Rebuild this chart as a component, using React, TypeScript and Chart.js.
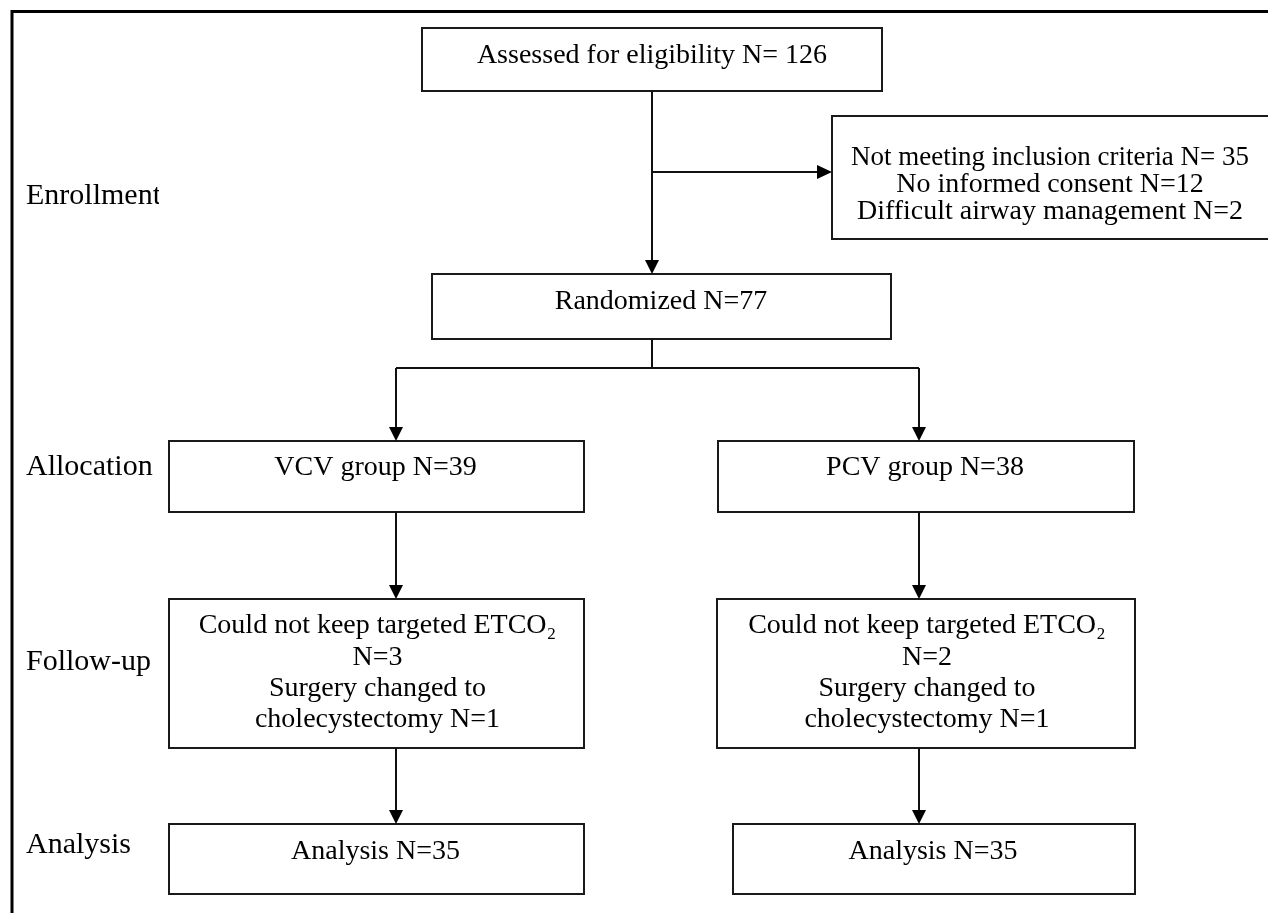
import React, { useEffect, useRef } from "react";
import { Chart, registerables } from "chart.js";

Chart.register(...registerables);

// ---- Data ----
const stageLabels = ["Enrollment", "Allocation", "Follow-up", "Analysis"];
const assessedN = 126;
const exclusionReasons = ["Not meeting inclusion criteria", "No informed consent", "Difficult airway management"];
const exclusionN = [35, 12, 2];
const randomizedN = 77;
const groupNames = ["VCV", "PCV"];
const allocatedN = [39, 38];
const etco2FailN = [3, 2];
const surgeryChangedN = [1, 1];
const analysedN = [35, 35];

// ---- Layout (in chart units, 0..1268 x 0..913) ----
type Box = { x0: number; x1: number; y0: number; y1: number };
const assessedBox: Box = { x0: 422, x1: 882, y0: 28, y1: 91 };
const exclusionBox: Box = { x0: 832, x1: 1272, y0: 116, y1: 239 };
const randomizedBox: Box = { x0: 432, x1: 891, y0: 274, y1: 339 };
const allocBoxes: Box[] = [
  { x0: 169, x1: 584, y0: 441, y1: 512 },
  { x0: 718, x1: 1134, y0: 441, y1: 512 },
];
const followBoxes: Box[] = [
  { x0: 169, x1: 584, y0: 599, y1: 748 },
  { x0: 717, x1: 1135, y0: 599, y1: 748 },
];
const analysisBoxes: Box[] = [
  { x0: 169, x1: 584, y0: 824, y1: 894 },
  { x0: 733, x1: 1135, y0: 824, y1: 894 },
];
const mainX = 652;
const branchX = [396, 919];
const exclusionArrowY = 172;
const splitY = 368;
const stageLabelY = [196, 467, 662, 845];
const stageLabelX = 26;

const SERIF = '"Liberation Serif", "Times New Roman", serif';

const flowPlugin = {
  id: "flow",
  afterDraw(chart: any) {
    const ctx: CanvasRenderingContext2D = chart.ctx;
    const xs = chart.scales.x;
    const ys = chart.scales.y;
    const px = (v: number) => xs.getPixelForValue(v);
    const py = (v: number) => ys.getPixelForValue(v);
    ctx.save();

    // outer frame (top and left edges)
    ctx.strokeStyle = "#000";
    ctx.lineWidth = 3;
    ctx.beginPath();
    ctx.moveTo(px(1268), py(11.5));
    ctx.lineTo(px(12), py(11.5));
    ctx.lineTo(px(12), py(913));
    ctx.stroke();

    const drawBox = (b: Box) => {
      ctx.strokeStyle = "#1a1a1a";
      ctx.lineWidth = 2;
      ctx.strokeRect(px(b.x0), py(b.y0), px(b.x1) - px(b.x0), py(b.y1) - py(b.y0));
    };
    const line = (x0: number, y0: number, x1: number, y1: number) => {
      ctx.strokeStyle = "#111";
      ctx.lineWidth = 2;
      ctx.beginPath();
      ctx.moveTo(px(x0), py(y0));
      ctx.lineTo(px(x1), py(y1));
      ctx.stroke();
    };
    const arrowDown = (x: number, y0: number, y1: number) => {
      line(x, y0, x, y1 - 12);
      ctx.fillStyle = "#000";
      ctx.beginPath();
      ctx.moveTo(px(x) - 7, py(y1) - 14);
      ctx.lineTo(px(x) + 7, py(y1) - 14);
      ctx.lineTo(px(x), py(y1));
      ctx.closePath();
      ctx.fill();
    };
    const arrowRight = (y: number, x0: number, x1: number) => {
      line(x0, y, x1 - 12, y);
      ctx.fillStyle = "#000";
      ctx.beginPath();
      ctx.moveTo(px(x1) - 15, py(y) - 7);
      ctx.lineTo(px(x1) - 15, py(y) + 7);
      ctx.lineTo(px(x1), py(y));
      ctx.closePath();
      ctx.fill();
    };
    const text = (s: string, x: number, y: number, size = 28, align: CanvasTextAlign = "center", maxW?: number) => {
      ctx.fillStyle = "#000";
      ctx.font = `${size}px ${SERIF}`;
      ctx.textAlign = align;
      ctx.textBaseline = "middle";
      if (maxW) ctx.fillText(s, px(x), py(y), maxW);
      else ctx.fillText(s, px(x), py(y));
    };
    const cx = (b: Box) => (b.x0 + b.x1) / 2;

    // boxes
    [assessedBox, exclusionBox, randomizedBox, ...allocBoxes, ...followBoxes, ...analysisBoxes].forEach(drawBox);

    // connectors
    arrowDown(mainX, assessedBox.y1, randomizedBox.y0);
    arrowRight(exclusionArrowY, mainX, exclusionBox.x0);
    line(mainX, randomizedBox.y1, mainX, splitY);
    line(branchX[0], splitY, branchX[1], splitY);
    branchX.forEach((bx, i) => {
      arrowDown(bx, splitY, allocBoxes[i].y0);
      arrowDown(bx, allocBoxes[i].y1, followBoxes[i].y0);
      arrowDown(bx, followBoxes[i].y1, analysisBoxes[i].y0);
    });

    // box texts
    text(`Assessed for eligibility N= ${assessedN}`, cx(assessedBox), 56);
    const exclLines = [
      `${exclusionReasons[0]} N= ${exclusionN[0]}`,
      `${exclusionReasons[1]} N=${exclusionN[1]}`,
      `${exclusionReasons[2]} N=${exclusionN[2]}`,
    ];
    exclLines.forEach((s, i) => text(s, 1050, 158 + i * 27, 28, "center", 398));
    text(`Randomized N=${randomizedN}`, 661, 302);

    groupNames.forEach((g, i) => {
      const ab = allocBoxes[i];
      text(`${g} group N=${allocatedN[i]}`, cx(ab) - 1, 468);
      const fb = followBoxes[i];
      const fx = cx(fb) + 1;
      text("Could not keep targeted ETCO\u2082", fx, 626);
      text(`N=${etco2FailN[i]}`, fx, 658);
      text("Surgery changed to", fx, 689);
      text(`cholecystectomy N=${surgeryChangedN[i]}`, fx, 720);
      const nb = analysisBoxes[i];
      text(`Analysis N=${analysedN[i]}`, cx(nb) - 1, 852);
    });

    // stage labels
    stageLabels.forEach((s, i) => {
      ctx.save();
      if (i === 0) {
        ctx.beginPath();
        ctx.rect(0, 0, px(159), chart.height);
        ctx.clip();
      }
      text(s, stageLabelX, stageLabelY[i], 30, "left");
      ctx.restore();
    });

    ctx.restore();
  },
};

export default function App() {
  const ref = useRef<HTMLCanvasElement | null>(null);
  useEffect(() => {
    document.body.style.margin = "0";
    const canvas = ref.current!;
    const chart = new Chart(canvas, {
      type: "scatter",
      data: {
        datasets: [
          {
            label: "nodes",
            data: [assessedBox, exclusionBox, randomizedBox, ...allocBoxes, ...followBoxes, ...analysisBoxes].map(
              (b) => ({ x: (b.x0 + b.x1) / 2, y: (b.y0 + b.y1) / 2 })
            ),
            pointRadius: 0,
            pointHoverRadius: 0,
          },
        ],
      },
      options: {
        animation: false,
        responsive: false,
        events: [],
        layout: { padding: 0 },
        plugins: { legend: { display: false }, tooltip: { enabled: false } },
        scales: {
          x: { type: "linear", min: 0, max: 1268, display: false },
          y: { type: "linear", min: 0, max: 913, reverse: true, display: false },
        },
      },
      plugins: [flowPlugin],
    });
    return () => chart.destroy();
  }, []);
  return (
    <div style={{ position: "absolute", left: 0, top: 0, width: 1268, height: 913, background: "#fff" }}>
      <canvas ref={ref} width={1268} height={913} style={{ display: "block" }} />
    </div>
  );
}
